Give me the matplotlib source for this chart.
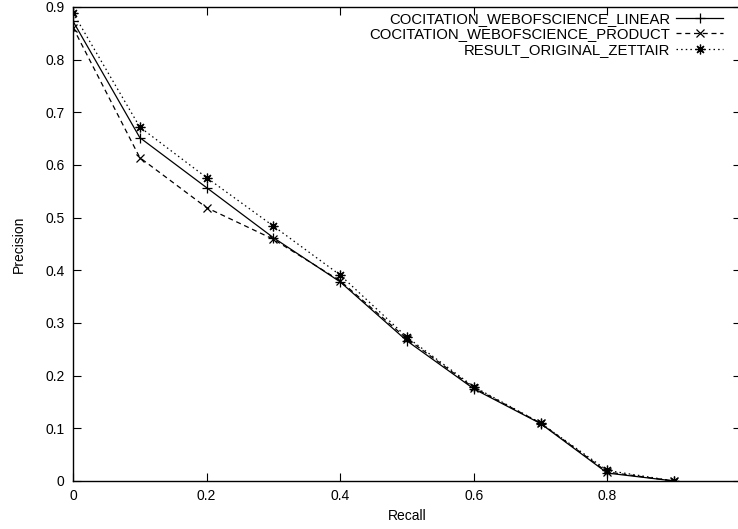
import matplotlib
matplotlib.use("Agg")
import matplotlib.pyplot as plt

plt.rcParams['font.family'] = ['Liberation Sans', 'DejaVu Sans']

recall = [0.0, 0.1, 0.2, 0.3, 0.4, 0.5, 0.6, 0.7, 0.8, 0.9]
linear = [0.873, 0.652, 0.557, 0.462, 0.378, 0.266, 0.175, 0.109, 0.015, 0.0]
product = [0.861, 0.614, 0.519, 0.459, 0.380, 0.270, 0.177, 0.110, 0.017, 0.0]
zettair = [0.889, 0.672, 0.576, 0.484, 0.391, 0.273, 0.179, 0.110, 0.020, 0.0]

labels = ["COCITATION_WEBOFSCIENCE_LINEAR",
          "COCITATION_WEBOFSCIENCE_PRODUCT",
          "RESULT_ORIGINAL_ZETTAIR"]
xticks = [0.0, 0.2, 0.4, 0.6, 0.8]
xtick_labels = ["0", "0.2", "0.4", "0.6", "0.8"]
yticks = [0.0, 0.1, 0.2, 0.3, 0.4, 0.5, 0.6, 0.7, 0.8, 0.9]
ytick_labels = ["0", "0.1", "0.2", "0.3", "0.4", "0.5", "0.6", "0.7", "0.8", "0.9"]

W, H = 738, 529
fig = plt.figure(figsize=(W / 100, H / 100), dpi=100)
ax = fig.add_axes([73 / W, (H - 481) / H, (741 - 73) / W, (481 - 7) / H])

ax.plot(recall, linear, color='black', lw=0.9, ls='-', marker='+', ms=7,
        mew=0.9, label=labels[0])
ax.plot(recall, product, color='black', lw=0.9, ls=(0, (4, 3)), marker='x',
        ms=6, mew=0.9, label=labels[1])
ax.plot(recall, zettair, color='black', lw=0.9, ls=(0, (1.2, 2.5)),
        marker=(8, 2, 0), ms=7, mew=0.9, label=labels[2])

ax.set_xlim(0, 1.0)
ax.set_ylim(0, 0.9)
ax.set_xticks(xticks + [1.0])
ax.set_xticklabels(xtick_labels + [""])
ax.set_yticks(yticks)
ax.set_yticklabels(ytick_labels)
ax.tick_params(direction='in', length=6, width=0.8, top=True, right=True,
               labelsize=10, colors='black', pad=6)
for s in ax.spines.values():
    s.set_linewidth(1.0)

ax.set_xlabel("Recall", fontsize=10, labelpad=4)
ax.set_ylabel("Precision", fontsize=10, labelpad=14)

leg = ax.legend(loc='upper right', bbox_to_anchor=(723 / W, 1 - 12 / H),
                bbox_transform=fig.transFigure, frameon=False,
                markerfirst=False, fontsize=10.7, handlelength=3.15,
                handletextpad=0.4, labelspacing=0.1, borderaxespad=0,
                borderpad=0)

fig.savefig("out.png", dpi=100)
